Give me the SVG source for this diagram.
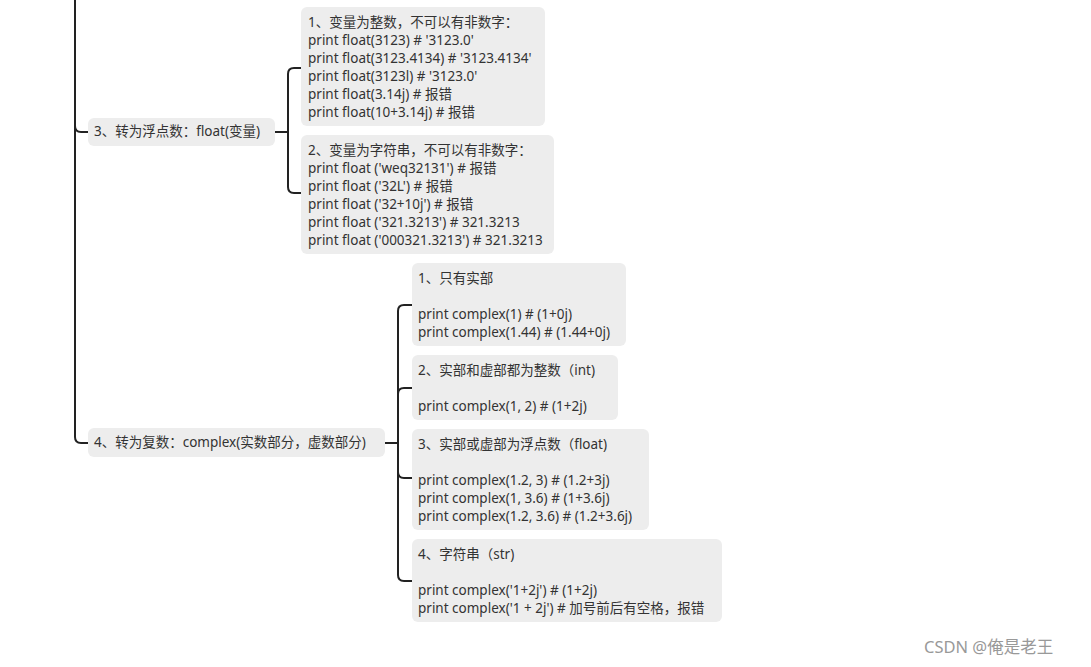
<svg xmlns="http://www.w3.org/2000/svg" width="1091" height="667" viewBox="0 0 1091 667">
<style>
.b{fill:#ededed}
text{font-family:"Noto Sans","Noto Sans CJK SC",sans-serif;font-size:13.5px;fill:#333}
.c{fill:none;stroke:#222;stroke-width:2}
</style>
<rect width="1091" height="667" fill="#fff"/>
<g id="connectors">
<path class="c" d="M75 0V126Q75 132 81 132H88M75 126V437Q75 443 81 443H88"/>
<path class="c" d="M275 132H288M301 68H294Q288 68 288 74V187Q288 193 294 193H301"/>
<path class="c" d="M385 443H398M412 305H404Q398 305 398 311V575Q398 581 404 581H412M398 394Q398 388 404 388H412M398 472Q398 478 404 478H412"/>
</g>
<g id="n3"><rect class="b" x="88" y="118" width="187" height="28" rx="6"/><text x="94" y="136">3、转为浮点数：float(变量)</text></g>
<g id="n3a"><rect class="b" x="301" y="7" width="244" height="119" rx="6"/>
<text x="308" y="27">1、变量为整数，不可以有非数字：</text>
<text x="308" y="45">print float(3123) # '3123.0'</text>
<text x="308" y="63">print float(3123.4134) # '3123.4134'</text>
<text x="308" y="81">print float(3123l) # '3123.0'</text>
<text x="308" y="99">print float(3.14j) # 报错</text>
<text x="308" y="117">print float(10+3.14j) # 报错</text></g>
<g id="n3b"><rect class="b" x="301" y="135" width="253" height="119" rx="6"/>
<text x="308" y="155">2、变量为字符串，不可以有非数字：</text>
<text x="308" y="173">print float ('weq32131') # 报错</text>
<text x="308" y="191">print float ('32L') # 报错</text>
<text x="308" y="209">print float ('32+10j') # 报错</text>
<text x="308" y="227">print float ('321.3213') # 321.3213</text>
<text x="308" y="245">print float ('000321.3213') # 321.3213</text></g>
<g id="n4"><rect class="b" x="88" y="428" width="297" height="29" rx="6"/><text x="94" y="447">4、转为复数：complex(实数部分，虚数部分)</text></g>
<g id="n4a"><rect class="b" x="412" y="263" width="214" height="83" rx="6"/>
<text x="418" y="283">1、只有实部</text>
<text x="418" y="319">print complex(1) # (1+0j)</text>
<text x="418" y="337">print complex(1.44) # (1.44+0j)</text></g>
<g id="n4b"><rect class="b" x="412" y="355" width="206" height="65" rx="6"/>
<text x="418" y="375">2、实部和虚部都为整数（int)</text>
<text x="418" y="411">print complex(1, 2) # (1+2j)</text></g>
<g id="n4c"><rect class="b" x="412" y="429" width="237" height="101" rx="6"/>
<text x="418" y="449">3、实部或虚部为浮点数（float)</text>
<text x="418" y="485">print complex(1.2, 3) # (1.2+3j)</text>
<text x="418" y="503">print complex(1, 3.6) # (1+3.6j)</text>
<text x="418" y="521">print complex(1.2, 3.6) # (1.2+3.6j)</text></g>
<g id="n4d"><rect class="b" x="412" y="539" width="310" height="83" rx="6"/>
<text x="418" y="559">4、字符串（str)</text>
<text x="418" y="595">print complex('1+2j') # (1+2j)</text>
<text x="418" y="613">print complex('1 + 2j') # 加号前后有空格，报错</text></g>
<text x="924" y="653" style="font-size:16.5px;fill:#999">CSDN @俺是老王</text>
</svg>
